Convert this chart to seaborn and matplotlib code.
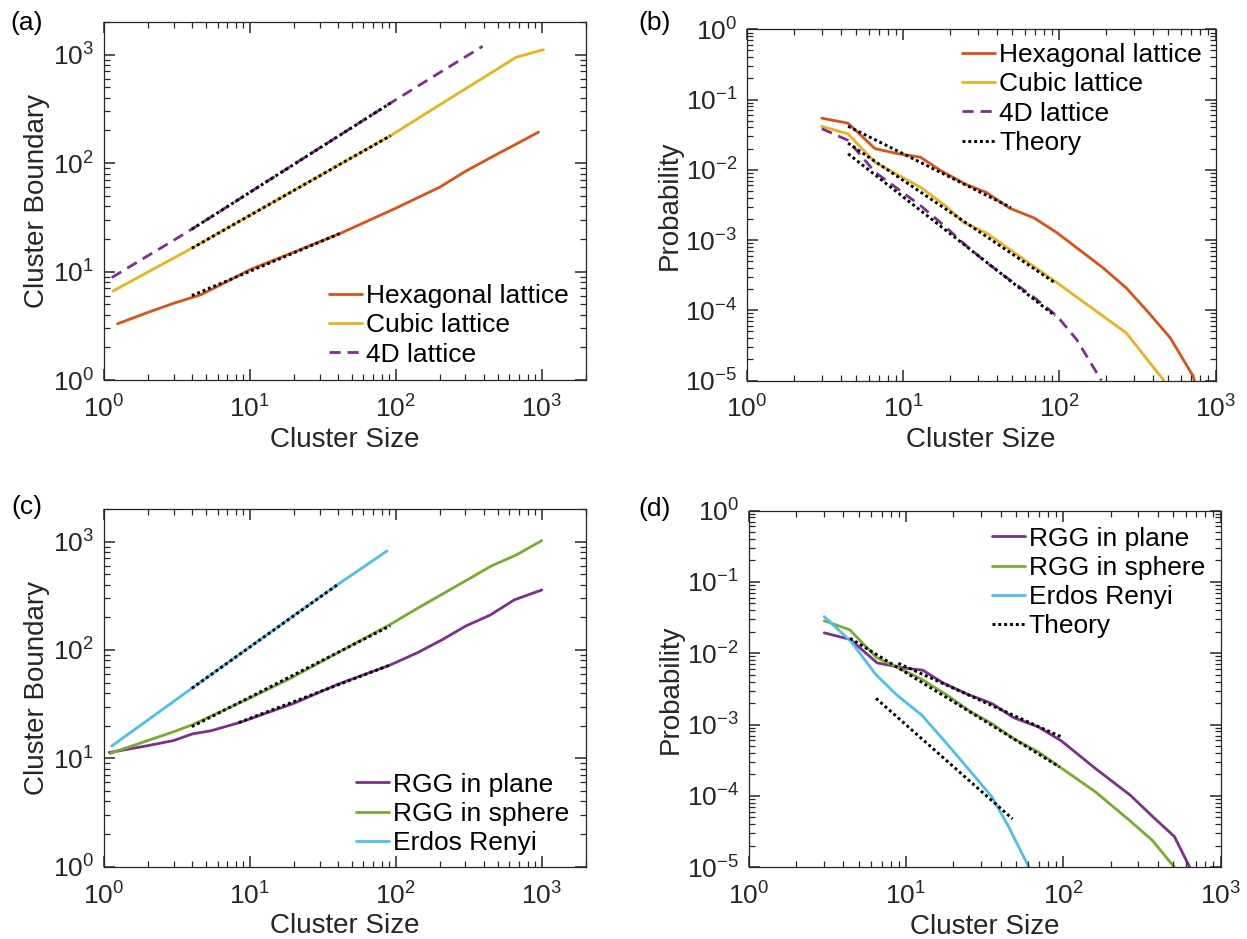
import numpy as np
import matplotlib
matplotlib.use("Agg")
import matplotlib.pyplot as plt
import seaborn as sns

# ---------------- data ----------------
# Panel (a): cluster boundary vs cluster size (lattices)
hex_a_x = [1.24, 2, 3, 4.6, 6, 10, 20, 42, 100, 200, 300, 500, 700, 950]
hex_a_y = [3.3, 4.2, 5.1, 6.1, 7.3, 10.4, 15.1, 22.6, 38.4, 60, 84, 122, 155, 193]
cub_a_x = [1.15, 2, 3, 4, 6, 10, 20, 40, 92, 200, 400, 666, 1027]
cub_a_y = [6.6, 9.9, 13.3, 16.4, 22.4, 33, 56, 95, 179, 345, 616, 945, 1112]
d4_a_x = [1.13, 2, 3, 4, 10, 20, 40, 92, 200, 393]
d4_a_y = [8.8, 14, 19.4, 24.6, 53.8, 97.4, 176, 358, 684, 1194]
th_a_hex_x, th_a_hex_y = [4, 42], [6.0, 22.6]
th_a_cub_x, th_a_cub_y = [4, 92], [16.4, 179]
th_a_d4_x, th_a_d4_y = [4, 92], [24.6, 358]

# Panel (b): probability vs cluster size (lattices)
hex_b_x = [3.01, 4.44, 6.6, 9.3, 12.9, 17.3, 25, 34.1, 47.9, 69, 97, 191, 268, 366, 513, 720, 760]
hex_b_y = [0.0543, 0.046, 0.020, 0.0169, 0.0151, 0.0098, 0.00625, 0.00476, 0.00285,
           0.00206, 0.00126, 0.0004, 0.000208, 9.7e-5, 4.05e-5, 1.15e-5, 7e-6]
cub_b_x = [3.01, 4.44, 6.6, 12.9, 18.9, 24.4, 34.1, 97, 268, 467]
cub_b_y = [0.0416, 0.0324, 0.0128, 0.00564, 0.003, 0.00178, 0.00126, 0.000245, 4.76e-5, 1e-5]
d4_b_x = [3.01, 4.44, 6.6, 12.9, 18.9, 25, 34.1, 47.9, 69, 97, 129, 186]
d4_b_y = [0.0385, 0.0262, 0.00925, 0.0031, 0.0015, 0.00085, 0.00048, 0.000273, 0.000152,
          8.2e-5, 3.83e-5, 1e-5]
th_b_hex_x, th_b_hex_y = [4.44, 49], [0.0416, 0.0029]
th_b_cub_x, th_b_cub_y = [4.44, 94], [0.0239, 0.000245]
th_b_d4_x, th_b_d4_y = [4.44, 94], [0.0169, 8.3e-5]

# Panel (c): cluster boundary vs cluster size (random graphs)
pla_c_x = [1.085, 2, 3, 4.03, 5.44, 8.6, 20, 40, 91.5, 141, 207, 303, 443, 648, 1000]
pla_c_y = [11.3, 13.1, 14.6, 16.8, 18, 21.5, 32.2, 48.2, 72.7, 94.5, 124, 167, 210, 290, 358]
sph_c_x = [1.1, 3, 4, 10, 19, 91.5, 141, 207, 455, 669, 1000]
sph_c_y = [11.1, 17.6, 20.3, 36, 54.8, 172, 243, 326, 600, 753, 1022]
erd_c_x = [1.13, 2, 4, 10, 20, 40.2, 87]
erd_c_y = [13, 22.6, 44.3, 106.8, 208, 404, 820]
th_c_erd_x, th_c_erd_y = [4, 40.2], [44.3, 404]
th_c_sph_x, th_c_sph_y = [4, 91.5], [19.6, 167]
th_c_pla_x, th_c_pla_y = [8.4, 91.5], [21.4, 72.7]

# Panel (d): probability vs cluster size (random graphs)
pla_d_x = [3.03, 4.43, 6.56, 9.3, 12.8, 17.2, 24.7, 35.2, 48.4, 69.6, 97.4, 161, 267, 373, 508, 636]
pla_d_y = [0.0193, 0.0156, 0.00733, 0.0063, 0.00578, 0.00384, 0.00266, 0.00197, 0.00125,
           0.000925, 0.000589, 0.00024, 0.000102, 5.04e-5, 2.7e-5, 1e-5]
sph_d_x = [3.03, 4.4, 6.5, 8.74, 12.3, 18.2, 25.4, 35.2, 48.4, 69.6, 97.4, 161, 267, 369, 508]
sph_d_y = [0.0285, 0.0213, 0.0087, 0.0064, 0.00445, 0.0026, 0.00155, 0.00103, 0.000634,
           0.000412, 0.000245, 0.000113, 4.43e-5, 2.37e-5, 1e-5]
erd_d_x = [3.03, 4.5, 6.4, 8.74, 12.6, 18.2, 25.4, 35.2, 44.5, 60.5]
erd_d_y = [0.0325, 0.0145, 0.0051, 0.0026, 0.00136, 0.00054, 0.000228, 9.7e-5, 3.85e-5, 1e-5]
th_d_pla_x, th_d_pla_y = [8.95, 97.4], [0.00722, 0.00067]
th_d_sph_x, th_d_sph_y = [4.42, 94.8], [0.0162, 0.000254]
th_d_erd_x, th_d_erd_y = [6.46, 47.6], [0.00233, 4.77e-5]

lattice_labels = ["Hexagonal lattice", "Cubic lattice", "4D lattice"]
graph_labels = ["RGG in plane", "RGG in sphere", "Erdos Renyi"]
theory_label = "Theory"
xlabel = "Cluster Size"
ylabel_boundary = "Cluster Boundary"
ylabel_prob = "Probability"

# ---------------- styling ----------------
C_HEX = "#D95319"
C_CUB = "#EDB120"
C_4D = "#7E2F8E"
C_GRN = "#77AC30"
C_CYN = "#4DBEEE"
DARK = "#262626"

sns.set_style("ticks")
plt.rcParams.update({
    "font.family": ["Liberation Sans", "DejaVu Sans"],
    "mathtext.fontset": "custom",
    "mathtext.rm": "Liberation Sans",
    "mathtext.it": "Liberation Sans:italic",
    "mathtext.bf": "Liberation Sans:bold",
    "axes.unicode_minus": False,
    "axes.edgecolor": DARK,
    "axes.axisbelow": False,
    "xtick.direction": "in",
    "ytick.direction": "in",
    "xtick.top": True,
    "xtick.bottom": True,
    "ytick.left": True,
    "ytick.right": True,
    "xtick.color": DARK,
    "ytick.color": DARK,
})

LW = 2.0
DOT = (0, (1, 1))
DASH = (0, (4, 2.5))

fig = plt.figure(figsize=(12.47, 9.39), dpi=100)
W, H = 1247, 939


def add_axes(l, r, t, b):
    return fig.add_axes([l / W, 1 - b / H, (r - l) / W, (b - t) / H])


ax_a = add_axes(104, 585.7, 22, 380)
ax_b = add_axes(747, 1215.5, 29.3, 380.5)
ax_c = add_axes(104, 585.7, 509, 866.7)
ax_d = add_axes(748.5, 1220.7, 510.5, 867.3)


def style(ax, xlim, ylim, ylabel):
    ax.set_xscale("log")
    ax.set_yscale("log")
    ax.set_xlim(*xlim)
    ax.set_ylim(*ylim)
    ax.set_axisbelow(False)
    ax.minorticks_on()
    ax.tick_params(which="both", direction="in", top=True, right=True,
                   bottom=True, left=True, color=DARK)
    ax.tick_params(which="major", length=8, width=1.1, labelsize=19, labelcolor=DARK)
    ax.tick_params(which="minor", length=4.5, width=0.9)
    ax.tick_params(axis="x", which="major", pad=11)
    ax.tick_params(axis="y", which="major", pad=7)
    for s in ax.spines.values():
        s.set_color(DARK)
        s.set_linewidth(0.9)
    ax.set_xlabel(xlabel, fontsize=20, color=DARK, labelpad=3)
    ax.set_ylabel(ylabel, fontsize=20, color=DARK, labelpad=2)


def line(ax, x, y, color, label=None, ls="-"):
    sns.lineplot(x=x, y=y, ax=ax, color=color, linewidth=LW, linestyle=ls,
                 label=label, sort=False, estimator=None, legend=False)


def theory(ax, x, y, label=None):
    sns.lineplot(x=x, y=y, ax=ax, color="black", linewidth=2.1, linestyle=DOT,
                 label=label, sort=False, estimator=None, legend=False, zorder=5)


def legend(ax, anchor):
    handles, labels = ax.get_legend_handles_labels()
    keep = [(h, l) for h, l in zip(handles, labels) if l and not l.startswith("_")]
    leg = ax.legend([k[0] for k in keep], [k[1] for k in keep], loc="upper left",
                    bbox_to_anchor=anchor, frameon=False, fontsize=19,
                    handlelength=1.25, handletextpad=0.15, labelspacing=0.2,
                    borderpad=0, borderaxespad=0)
    for t in leg.get_texts():
        t.set_color("black")


# (a)
line(ax_a, hex_a_x, hex_a_y, C_HEX, lattice_labels[0])
line(ax_a, cub_a_x, cub_a_y, C_CUB, lattice_labels[1])
line(ax_a, d4_a_x, d4_a_y, C_4D, lattice_labels[2], ls=DASH)
theory(ax_a, th_a_hex_x, th_a_hex_y)
theory(ax_a, th_a_cub_x, th_a_cub_y)
theory(ax_a, th_a_d4_x, th_a_d4_y)
style(ax_a, (1, 2000), (1, 2000), ylabel_boundary)
legend(ax_a, (0.467, 0.268))

# (b)
line(ax_b, hex_b_x, hex_b_y, C_HEX, lattice_labels[0])
line(ax_b, cub_b_x, cub_b_y, C_CUB, lattice_labels[1])
line(ax_b, d4_b_x, d4_b_y, C_4D, lattice_labels[2], ls=DASH)
theory(ax_b, th_b_hex_x, th_b_hex_y, theory_label)
theory(ax_b, th_b_cub_x, th_b_cub_y)
theory(ax_b, th_b_d4_x, th_b_d4_y)
style(ax_b, (1, 1000), (1e-5, 1), ylabel_prob)
legend(ax_b, (0.459, 0.961))

# (c)
line(ax_c, pla_c_x, pla_c_y, C_4D, graph_labels[0])
line(ax_c, sph_c_x, sph_c_y, C_GRN, graph_labels[1])
line(ax_c, erd_c_x, erd_c_y, C_CYN, graph_labels[2])
theory(ax_c, th_c_erd_x, th_c_erd_y)
theory(ax_c, th_c_sph_x, th_c_sph_y)
theory(ax_c, th_c_pla_x, th_c_pla_y)
style(ax_c, (1, 2000), (1, 2000), ylabel_boundary)
legend(ax_c, (0.524, 0.263))

# (d)
line(ax_d, pla_d_x, pla_d_y, C_4D, graph_labels[0])
line(ax_d, sph_d_x, sph_d_y, C_GRN, graph_labels[1])
line(ax_d, erd_d_x, erd_d_y, C_CYN, graph_labels[2])
theory(ax_d, th_d_pla_x, th_d_pla_y, theory_label)
theory(ax_d, th_d_sph_x, th_d_sph_y)
theory(ax_d, th_d_erd_x, th_d_erd_y)
style(ax_d, (1, 1000), (1e-5, 1), ylabel_prob)
legend(ax_d, (0.515, 0.955))

for lab, x, y in [("(a)", 10, 23), ("(b)", 638, 23), ("(c)", 11, 507), ("(d)", 638, 509)]:
    fig.text(x / W, 1 - y / H, lab, fontsize=19, color="black", ha="left", va="center")

fig.savefig("out.png", dpi=100)
